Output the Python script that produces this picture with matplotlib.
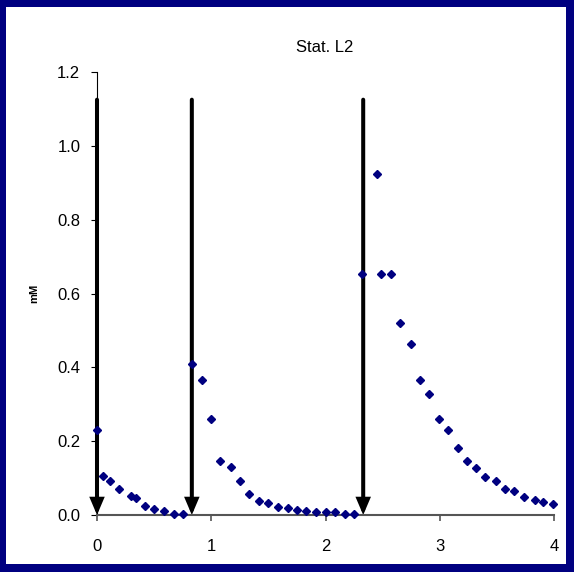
import matplotlib.pyplot as plt
from matplotlib.patches import Rectangle

plt.rcParams['font.family'] = ['Liberation Sans', 'DejaVu Sans']

# sampling times (h) and concentrations (mM)
time = [0, 0.05, 0.11, 0.19, 0.30, 0.34, 0.42, 0.50, 0.59, 0.67, 0.75,
        0.83, 0.92, 1.00, 1.08, 1.17, 1.25, 1.33, 1.42, 1.50, 1.58, 1.67, 1.75,
        1.83, 1.92, 2.00, 2.08, 2.17, 2.25,
        2.32, 2.45, 2.49, 2.57, 2.65, 2.75, 2.83, 2.91, 2.99, 3.07, 3.16,
        3.24, 3.32, 3.40, 3.49, 3.57, 3.65, 3.74, 3.83, 3.90, 3.99]
conc = [0.230, 0.105, 0.093, 0.071, 0.051, 0.046, 0.025, 0.016, 0.012, 0.004, 0.004,
        0.409, 0.366, 0.259, 0.146, 0.129, 0.093, 0.058, 0.039, 0.033, 0.022, 0.018, 0.014,
        0.012, 0.009, 0.008, 0.008, 0.004, 0.004,
        0.654, 0.924, 0.654, 0.654, 0.519, 0.462, 0.367, 0.327, 0.259, 0.231, 0.182,
        0.146, 0.128, 0.104, 0.092, 0.070, 0.064, 0.050, 0.040, 0.036, 0.029]

# dosing times marked with arrows
doses = [0, 0.83, 2.33]
arrowTop = 1.125

xticks = [0, 1, 2, 3, 4]
yticks = [0.0, 0.2, 0.4, 0.6, 0.8, 1.0, 1.2]

W, H = 574, 572
fig = plt.figure(figsize=(W/100, H/100), dpi=100, facecolor='#000080')
fig.patches.append(Rectangle((6/W, 8/H), (566-6)/W, (565-8)/H,
                             transform=fig.transFigure, facecolor='white',
                             edgecolor='none', zorder=-1))

ax = fig.add_axes([97/W, (H-515)/H, (554-97)/W, (515-72)/H])
ax.set_facecolor('none')
ax.set_zorder(2)

for d in doses:
    ax.annotate('', xy=(d, 0), xytext=(d, arrowTop),
                arrowprops=dict(arrowstyle='-|>,head_length=0.8,head_width=0.34',
                                lw=2.9, color='black', shrinkA=0, shrinkB=0,
                                mutation_scale=10, joinstyle='miter'),
                zorder=2)

ax.plot(time, conc, linestyle='none', marker='D', markersize=4.3,
        color='#000080', clip_on=False, zorder=3)

ax.set_xlim(0, 4)
ax.set_ylim(0, 1.2)
ax.set_xticks(xticks)
ax.set_yticks(yticks)
ax.set_xticklabels([str(t) for t in xticks])
ax.set_yticklabels(['%.1f' % t for t in yticks])

for s in ['top', 'right']:
    ax.spines[s].set_visible(False)
ax.spines['bottom'].set_color('#555555')
ax.spines['bottom'].set_linewidth(1.5)
ax.spines['left'].set_color('black')
ax.spines['left'].set_linewidth(0.8)
ax.tick_params(axis='x', direction='out', length=4, width=1.2, color='#555555',
               labelsize=12, pad=13)
ax.tick_params(axis='y', direction='out', length=4, width=0.8, color='black',
               labelsize=12, pad=8)

ax.set_ylabel('mM', fontsize=8, fontweight='bold', labelpad=13)
fig.text(325/W, 1 - 47/H, 'Stat. L2', ha='center', va='center', fontsize=12)

fig.savefig('out.png', dpi=100, facecolor=fig.get_facecolor())
